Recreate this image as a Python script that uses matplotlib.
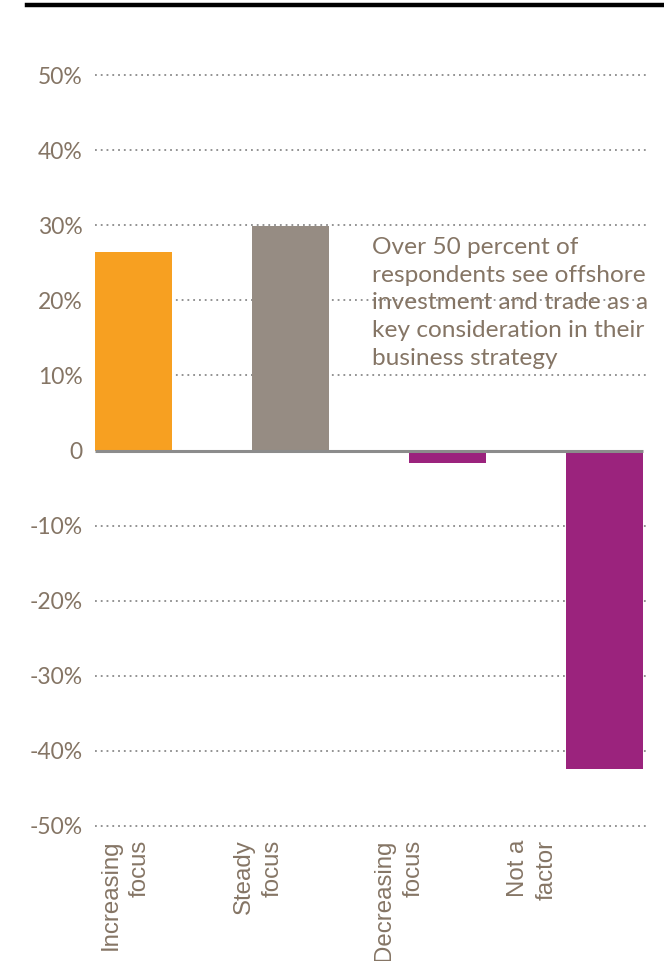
import matplotlib
matplotlib.use("Agg")
import matplotlib.pyplot as plt
from matplotlib.lines import Line2D

categories = ["Increasing\nfocus", "Steady\nfocus", "Decreasing\nfocus", "Not a\nfactor"]
values = [26.4, 29.9, -1.6, -42.4]
colors = ["#F7A021", "#968C83", "#9B237D", "#9B237D"]
yticks = [50, 40, 30, 20, 10, 0, -10, -20, -30, -40, -50]
ytick_labels = ["50%", "40%", "30%", "20%", "10%", "0", "-10%", "-20%", "-30%", "-40%", "-50%"]
annotation = ("Over 50 percent of\nrespondents see offshore\ninvestment and trade as a\n"
              "key consideration in their\nbusiness strategy")

TXT = "#857565"
W, H = 664, 961
fig = plt.figure(figsize=(W / 100, H / 100), dpi=100)
ax = fig.add_axes([95 / W, (H - 826) / H, (647 - 95) / W, (826 - 75) / H])

x = list(range(len(categories)))
bw = 0.49
ax.set_xlim(-bw / 2, (647 - 133.5) / 157)
ax.set_ylim(-50, 50)

for t in yticks:
    if t != 0:
        ax.axhline(t, color="#8a8a8a", lw=1.3, ls=(0, (1, 2.2)), zorder=1, clip_on=False)

ax.bar(x, values, width=bw, color=colors, zorder=2)
ax.hlines(0, -bw / 2, 3 + bw / 2, color="#8c8c8c", lw=2.2, zorder=3)

for s in ax.spines.values():
    s.set_visible(False)
ax.set_xticks([])
ax.set_yticks(yticks)
ax.set_yticklabels(ytick_labels, fontfamily="Lato", fontsize=16.5, color=TXT)
ax.tick_params(axis="y", length=0, pad=9)

# category labels (rotated)
label_x = [-0.054, 0.793, 1.69, 2.54]
for lx, lab in zip(label_x, categories):
    ax.text(lx, -51.8, lab, rotation=90, ha="center", va="top", ma="right",
            fontfamily="Liberation Sans", fontsize=17.3, color=TXT, linespacing=1.4,
            clip_on=False)

ax.text(1.52, 28.4, annotation, ha="left", va="top", fontfamily="Lato",
        fontsize=17.6, color=TXT, linespacing=1.39, zorder=4)

# top rule
fig.add_artist(Line2D([27 / W, 1], [1 - 4.5 / H, 1 - 4.5 / H], color="#000000", lw=3.2,
                      transform=fig.transFigure))

fig.savefig("out.png", dpi=100)
